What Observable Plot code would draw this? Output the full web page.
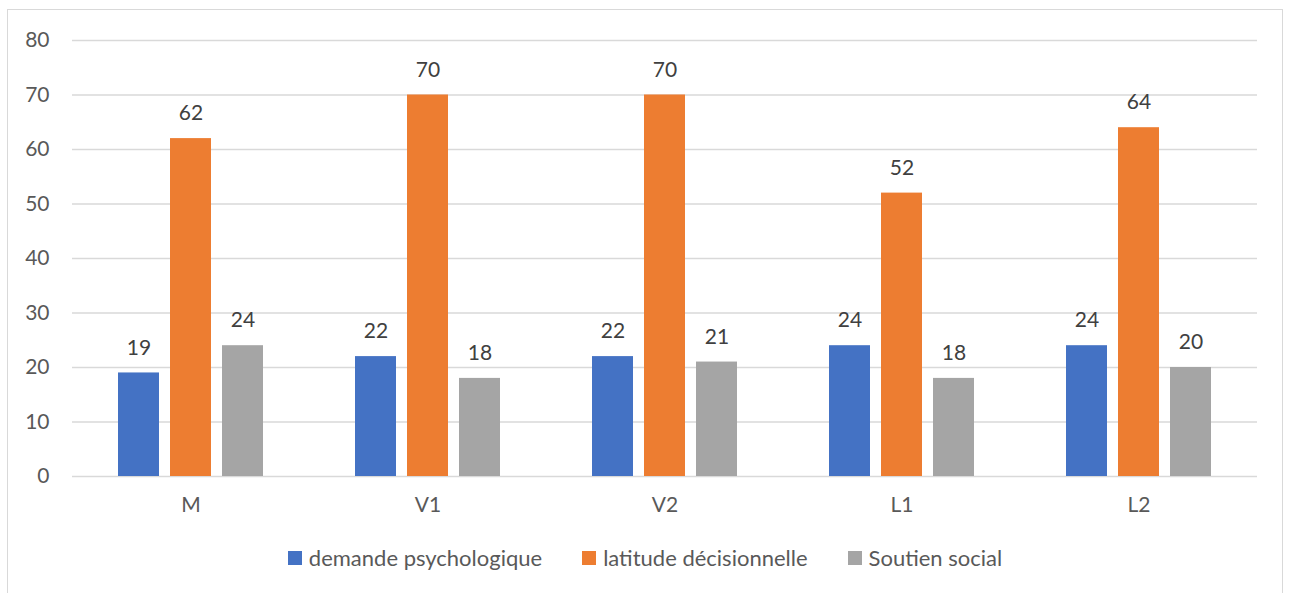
<!DOCTYPE html>
<html>
<head>
<meta charset="utf-8">
<script src="https://cdn.jsdelivr.net/npm/d3@7"></script>
<script src="https://cdn.jsdelivr.net/npm/@observablehq/plot@0.6"></script>
<style>
  html, body { margin: 0; padding: 0; background: #fff; overflow: hidden; width: 1290px; height: 593px; }
  #wrap { position: relative; width: 1290px; height: 593px; font-family: Lato, "Open Sans", sans-serif; }
  #frame { position: absolute; left: 7px; top: 9px; width: 1276px; height: 700px; border: 1.5px solid #d9d9d9; box-sizing: border-box; pointer-events: none; }
  #chart { position: absolute; left: 0; top: 0; }
  #legend { position: absolute; left: 0; top: 546px; width: 1290px; display: flex; justify-content: center; gap: 40px; font-size: 22px; color: #595959; line-height: 24px; }
  .item { display: flex; align-items: center; gap: 7px; }
  .sw { width: 14px; height: 14px; display: inline-block; }
</style>
</head>
<body>
<div id="wrap">
  <div id="frame"></div>
  <div id="chart"></div>
  <div id="legend"></div>
</div>
<script>
const categories = ["M", "V1", "V2", "L1", "L2"];
const seriesNames = ["demande psychologique", "latitude décisionnelle", "Soutien social"];
const demande = [19, 22, 22, 24, 24];
const latitude = [62, 70, 70, 52, 64];
const soutien = [24, 18, 21, 18, 20];
const colors = ["#4472C4", "#ED7D31", "#A5A5A5"];
const yTicks = [0, 10, 20, 30, 40, 50, 60, 70, 80];

const seriesValues = [demande, latitude, soutien];
const data = [];
categories.forEach((c, i) => {
  seriesNames.forEach((s, j) => {
    data.push({cat: c, series: s, value: seriesValues[j][i]});
  });
});

const chart = Plot.plot({
  width: 1290,
  height: 530,
  marginLeft: 72,
  marginRight: 33,
  marginTop: 40,
  marginBottom: 54,
  style: {fontFamily: "Lato, 'Open Sans', sans-serif", fontSize: "21px", color: "#595959", background: "transparent", overflow: "visible"},
  fx: {domain: categories, padding: 0, label: null},
  x: {domain: seriesNames, paddingInner: 0.22, paddingOuter: 0.86, axis: null},
  y: {domain: [0, 80], label: null},
  color: {domain: seriesNames, range: colors},
  marks: [
    Plot.gridY(yTicks, {stroke: "#d9d9d9", strokeOpacity: 1, strokeWidth: 1.5}),
    Plot.axisY(yTicks, {tickSize: 0, tickPadding: 23, label: null, fill: "#595959"}),
    Plot.barY(data, {fx: "cat", x: "series", y: "value", fill: "series"}),
    Plot.text(data, {fx: "cat", x: "series", y: "value", text: d => String(d.value), dy: -25, fill: "#404040"}),
    Plot.axisFx({anchor: "bottom", tickSize: 0, tickPadding: 21, label: null, fill: "#595959"})
  ]
});
document.getElementById("chart").appendChild(chart);

const legend = document.getElementById("legend");
seriesNames.forEach((s, j) => {
  const item = document.createElement("div");
  item.className = "item";
  const sw = document.createElement("span");
  sw.className = "sw";
  sw.style.background = colors[j];
  const t = document.createElement("span");
  t.textContent = s;
  item.appendChild(sw);
  item.appendChild(t);
  legend.appendChild(item);
});
</script>
</body>
</html>
